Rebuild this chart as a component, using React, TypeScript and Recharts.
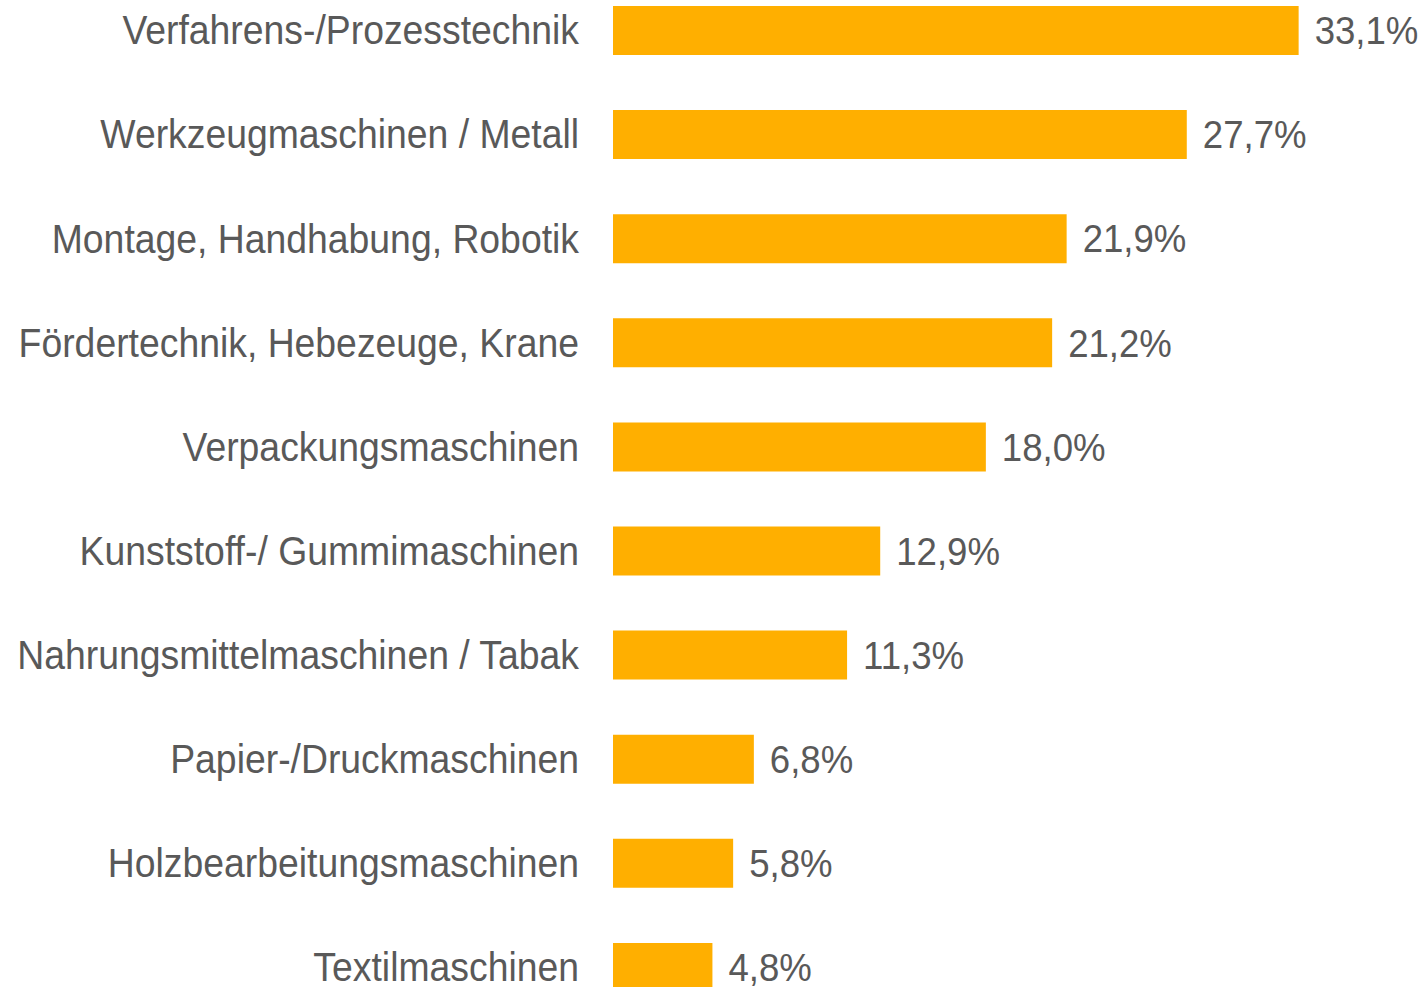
import React from 'react';
import { BarChart, Bar, XAxis, YAxis, LabelList } from 'recharts';

const categories = [
  'Verfahrens-/Prozesstechnik',
  'Werkzeugmaschinen / Metall',
  'Montage, Handhabung, Robotik',
  'Fördertechnik, Hebezeuge, Krane',
  'Verpackungsmaschinen',
  'Kunststoff-/ Gummimaschinen',
  'Nahrungsmittelmaschinen / Tabak',
  'Papier-/Druckmaschinen',
  'Holzbearbeitungsmaschinen',
  'Textilmaschinen',
];
const values = [33.1, 27.7, 21.9, 21.2, 18.0, 12.9, 11.3, 6.8, 5.8, 4.8];

const data = categories.map((name, i) => ({ name, value: values[i] }));

const FONT = 'Arial, "Liberation Sans", sans-serif';
const TEXT = '#595959';
const fmt = (v: number) => v.toFixed(1).replace('.', ',') + '%';

const CategoryTick = (props: any) => {
  const { x, y, payload } = props;
  return (
    <g transform={`translate(${x},${y})`}>
      <text
        x={0}
        y={0}
        dy="0.355em"
        textAnchor="end"
        transform="scale(1,1.08)"
        fill={TEXT}
        fontSize={37.35}
        fontFamily={FONT}
      >
        {payload.value}
      </text>
    </g>
  );
};

const ValueLabel = (props: any) => {
  const { x, y, width, height, value } = props;
  const lx = Number(x) + Number(width) + 16;
  const ly = Number(y) + Number(height) / 2;
  return (
    <g transform={`translate(${lx},${ly})`}>
      <text
        x={0}
        y={0}
        dy="0.355em"
        textAnchor="start"
        transform="scale(1,1.06)"
        fill={TEXT}
        fontSize={36.6}
        fontFamily={FONT}
      >
        {fmt(Number(value))}
      </text>
    </g>
  );
};

export default function App() {
  return (
    <div style={{ position: 'fixed', top: 0, left: 0, width: 1426, height: 987, overflow: 'hidden', background: '#fff' }}>
      <div style={{ position: 'absolute', top: -22, left: 0 }}>
        <BarChart
          width={1426}
          height={1041}
          data={data}
          layout="vertical"
          margin={{ top: 0, right: 88, bottom: 0, left: 0 }}
          barSize={49}
        >
          <XAxis type="number" domain={[0, 35]} hide />
          <YAxis
            type="category"
            dataKey="name"
            width={613}
            axisLine={false}
            tickLine={false}
            tickSize={0}
            tickMargin={34}
            interval={0}
            tick={<CategoryTick />}
          />
          <Bar dataKey="value" fill="#FFAF00" isAnimationActive={false}>
            <LabelList dataKey="value" content={<ValueLabel />} />
          </Bar>
        </BarChart>
      </div>
    </div>
  );
}
